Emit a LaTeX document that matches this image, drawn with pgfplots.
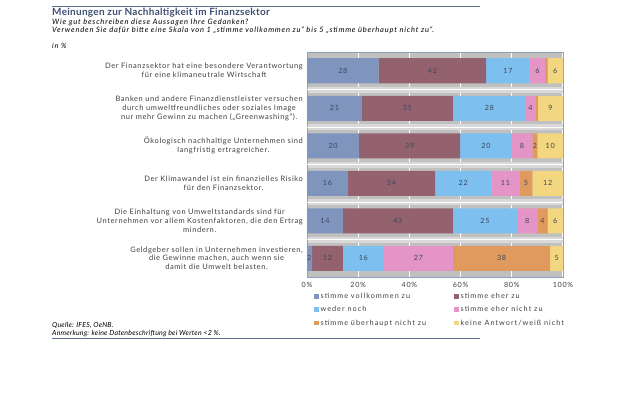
\documentclass[border=0pt]{standalone}
\usepackage{fontspec}
\setmainfont{Lato}
\newfontfamily\lblfont[LetterSpace=8]{Lato}
\newfontfamily\subfont[LetterSpace=11]{Lato}
\newfontfamily\titlefont[LetterSpace=3]{Lato}
\newfontfamily\legfont[LetterSpace=14]{Lato}
\newfontfamily\numfont[LetterSpace=10]{Lato}
\newfontfamily\footfont[LetterSpace=3]{Lato}
\usepackage{pgfplots}
\usepackage{pgfplotstable}
\pgfplotsset{compat=1.18}

\definecolor{cA}{HTML}{8095BD}
\definecolor{cB}{HTML}{94616F}
\definecolor{cC}{HTML}{7DBFEE}
\definecolor{cD}{HTML}{E494C6}
\definecolor{cE}{HTML}{E09A5E}
\definecolor{cF}{HTML}{F2D780}
\definecolor{bggray}{HTML}{C0C0C0}
\definecolor{gapgray}{HTML}{D9D9D9}
\definecolor{axisblue}{HTML}{8EA0C2}
\definecolor{titleblue}{HTML}{3E4F70}
\definecolor{rulecol}{HTML}{5C6F8E}
\definecolor{txtgray}{HTML}{404040}
\definecolor{numcol}{HTML}{3C4658}

\pgfplotstableread{
row s1 s2 s3 s4 s5 s6
1 28 42 17 6 1 6
2 21.4 35.6 28.4 3.8 1.0 9.8
3 20.4 39.4 20.2 8 2 10
4 16 34 22 11 5 12
5 14 43 25 8 4 6
6 2 12 16 27 38 5
}\data

\pgfplotstableread{
x y lab
14 1 28
49 1 42
78.5 1 17
90 1 6
97 1 6
10.7 2 21
39.2 2 35
71.2 2 28
87.3 2 4
95.1 2 9
10.2 3 20
40.1 3 39
69.9 3 20
84 3 8
89 3 2
95 3 10
8 4 16
33 4 34
61 4 22
77.5 4 11
85.5 4 5
94 4 12
7 5 14
35.5 5 43
69.5 5 25
86 5 8
92 5 4
97 5 6
0.9 6 2
8 6 12
22 6 16
43.5 6 27
76 6 38
97.5 6 5
}\labels

\begin{document}
\begin{tikzpicture}
\useasboundingbox (0bp,0bp) rectangle (620bp,-413bp);
\draw[rulecol, line width=1.5bp] (52bp,-6.5bp) -- (480bp,-6.5bp);
\draw[rulecol, line width=1.2bp] (52bp,-338.5bp) -- (480bp,-338.5bp);
\node[anchor=base west, inner sep=0pt, font=\titlefont\fontsize{10}{11}\selectfont\bfseries, text=titleblue] at (52bp,-15.5bp) {Meinungen zur Nachhaltigkeit im Finanzsektor};
\node[anchor=base west, inner sep=0pt, font=\subfont\fontsize{7.5}{8}\selectfont\itshape, text=black] at (52bp,-24.5bp) {Wie gut beschreiben diese Aussagen Ihre Gedanken?};
\node[anchor=base west, inner sep=0pt, font=\subfont\fontsize{7.5}{8}\selectfont\itshape, text=black] at (52bp,-32.5bp) {Verwenden Sie dafür bitte eine Skala von 1 „stimme vollkommen zu“ bis 5 „stimme überhaupt nicht zu“.};
\node[anchor=base west, inner sep=0pt, font=\subfont\fontsize{7.3}{8}\selectfont\itshape, text=black] at (52bp,-48.5bp) {in \%};
\node[anchor=base west, inner sep=0pt, font=\footfont\fontsize{7}{8}\selectfont\itshape, text=black] at (52bp,-327.5bp) {Quelle: IFES, OeNB.};
\node[anchor=base west, inner sep=0pt, font=\footfont\fontsize{7}{8}\selectfont\itshape, text=black] at (52bp,-335.5bp) {Anmerkung: keine Datenbeschriftung bei Werten <2 \%.};

\begin{axis}[
  at={(307bp,-277bp)}, anchor=south west,
  scale only axis, width=256bp, height=225bp,
  xbar stacked, bar width=0.667,
  xmin=0, xmax=100, ymin=0.5, ymax=6.5, y dir=reverse,
  axis background/.style={fill=bggray},
  axis line style={draw=axisblue, line width=0.8bp},
  xtick={0,20,40,60,80,100},
  xticklabels={0\%,20\%,40\%,60\%,80\%,100\%},
  xticklabel style={font=\numfont\fontsize{7.2}{8}\selectfont, text=txtgray, inner sep=0pt, yshift=-5bp},
  ytick={1,2,3,4,5,6},
  yticklabels={
    {Der Finanzsektor hat eine besondere Verantwortung\\für eine klimaneutrale Wirtschaft},
    {Banken und andere Finanzdienstleister versuchen\\durch umweltfreundliches oder soziales Image\\nur mehr Gewinn zu machen („Greenwashing“).},
    {Ökologisch nachhaltige Unternehmen sind\\langfristig ertragreicher.},
    {Der Klimawandel ist ein finanzielles Risiko\\für den Finanzsektor.},
    {Die Einhaltung von Umweltstandards sind für\\Unternehmen vor allem Kostenfaktoren, die den Ertrag\\mindern.},
    {Geldgeber sollen in Unternehmen investieren,\\die Gewinne machen, auch wenn sie\\damit die Umwelt belasten.}},
  yticklabel style={align=center, font=\lblfont\fontsize{7.5}{9}\selectfont, text=txtgray, inner sep=0pt, xshift=-4bp},
  major tick length=0pt, minor tick length=0pt,
  xmajorgrids, major grid style={white, line width=1.2bp},
  minor ytick={1.5,2.5,3.5,4.5,5.5}, yminorgrids, minor grid style={gapgray, line width=6bp},
  extra y ticks={1.5,2.5,3.5,4.5,5.5}, extra y tick labels={},
  extra y tick style={ymajorgrids=true, major grid style={white, line width=1bp}},
  legend columns=2, legend cell align=left,
  legend style={at={(0.027,-0.062)}, anchor=north west, draw=none, fill=none, inner sep=0pt,
    font=\legfont\fontsize{7.3}{8}\selectfont, text=txtgray, row sep=2.5bp,
    /tikz/every even column/.append style={column sep=26bp}},
  legend image code/.code={\fill[#1] (0bp,-2bp) rectangle (4.5bp,2.5bp);},
]
\addplot[fill=cA, draw=none] table[x=s1, y=row] {\data};
\addplot[fill=cB, draw=none] table[x=s2, y=row] {\data};
\addplot[fill=cC, draw=none] table[x=s3, y=row] {\data};
\addplot[fill=cD, draw=none] table[x=s4, y=row] {\data};
\addplot[fill=cE, draw=none] table[x=s5, y=row] {\data};
\addplot[fill=cF, draw=none] table[x=s6, y=row] {\data};
\legend{stimme vollkommen zu, stimme eher zu, weder noch, stimme eher nicht zu, stimme überhaupt nicht zu, keine Antwort/weiß nicht}
\end{axis}

\begin{axis}[
  at={(307bp,-277bp)}, anchor=south west,
  scale only axis, width=256bp, height=225bp,
  xmin=0, xmax=100, ymin=0.5, ymax=6.5, y dir=reverse,
  hide axis,
]
\addplot[draw=none, mark=none, nodes near coords, point meta=explicit symbolic,
  every node near coord/.append style={anchor=center, font=\numfont\fontsize{7.2}{8}\selectfont, text=numcol, inner sep=0pt}]
  table[x=x, y=y, meta=lab] {\labels};
\end{axis}
\end{tikzpicture}
\end{document}
